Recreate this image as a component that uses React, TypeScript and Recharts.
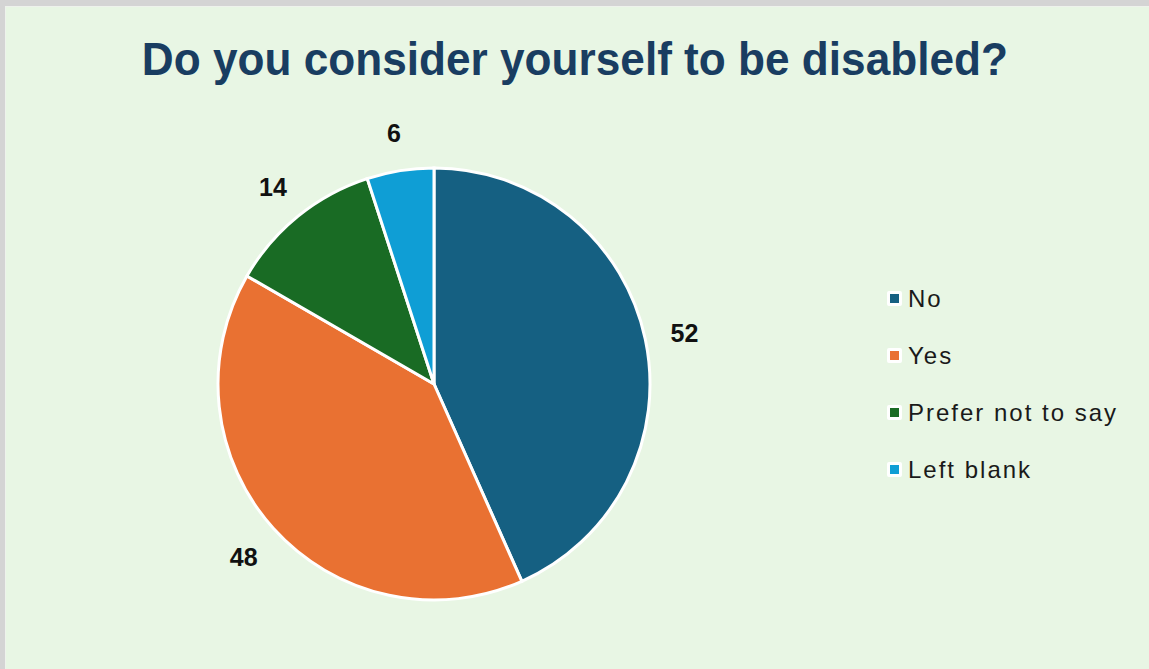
import { PieChart, Pie, Cell, Legend } from "recharts";

const categories = ["No", "Yes", "Prefer not to say", "Left blank"];
const counts = [52, 48, 14, 6];
const colors = ["#156082", "#E97132", "#196B24", "#0F9ED5"];

const data = categories.map((name, i) => ({ name, value: counts[i], color: colors[i] }));

const RADIAN = Math.PI / 180;

function renderLabel(props: any) {
  const { cx, cy, midAngle, value } = props;
  const r = 256;
  const x = cx + r * Math.cos(-midAngle * RADIAN);
  const y = cy + r * Math.sin(-midAngle * RADIAN) + 2;
  return (
    <text
      x={x}
      y={y}
      textAnchor="middle"
      dominantBaseline="central"
      fill="#111"
      fontSize={25}
      fontWeight={700}
      fontFamily="'Liberation Sans', Arial, sans-serif"
    >
      {value}
    </text>
  );
}

function LegendBox() {
  return (
    <div style={{ fontFamily: "'Liberation Sans', Arial, sans-serif" }}>
      {data.map((d) => (
        <div key={d.name} style={{ display: "flex", alignItems: "center", height: 57 }}>
          <div
            style={{
              width: 9,
              height: 9,
              backgroundColor: d.color,
              border: "3px solid #fff",
              borderRadius: 2,
              marginRight: 6,
            }}
          ></div>
          <span style={{ fontSize: 24, letterSpacing: 2, color: "#1a1a1a" }}>{d.name}</span>
        </div>
      ))}
    </div>
  );
}

export default function App() {
  return (
    <div
      style={{
        position: "fixed",
        left: 0,
        top: 0,
        width: 1149,
        height: 669,
        background: "#D4D4D4",
        overflow: "hidden",
      }}
    >
      <div
        style={{
          position: "absolute",
          left: 5,
          top: 6,
          right: 0,
          bottom: 0,
          background: "#E8F6E4",
          borderTop: "1px solid #EEF2EC",
          borderLeft: "1px solid #EEF2EC",
        }}
      ></div>
      <div
        style={{
          position: "absolute",
          left: 0,
          top: 32,
          width: 1149,
          textAlign: "center",
          fontFamily: "'Liberation Sans', Arial, sans-serif",
          fontWeight: 700,
          fontSize: 46,
          color: "#193D61",
          transform: "scaleX(0.96)",
          transformOrigin: "585px 0",
        }}
      >
        Do you consider yourself to be disabled?
      </div>
      <div style={{ position: "absolute", left: 0, top: 0 }}>
        <PieChart width={1149} height={669}>
          <Pie
            data={data}
            dataKey="value"
            nameKey="name"
            cx={429}
            cy={379}
            outerRadius={216}
            startAngle={90}
            endAngle={-270}
            stroke="#fff"
            strokeWidth={3}
            label={renderLabel}
            labelLine={false}
            isAnimationActive={false}
          >
            {data.map((d) => (
              <Cell key={d.name} fill={d.color} />
            ))}
          </Pie>
          <Legend
            layout="vertical"
            align="right"
            verticalAlign="top"
            content={<LegendBox />}
            wrapperStyle={{ left: 887, top: 270, width: 260 }}
          />
        </PieChart>
      </div>
    </div>
  );
}
